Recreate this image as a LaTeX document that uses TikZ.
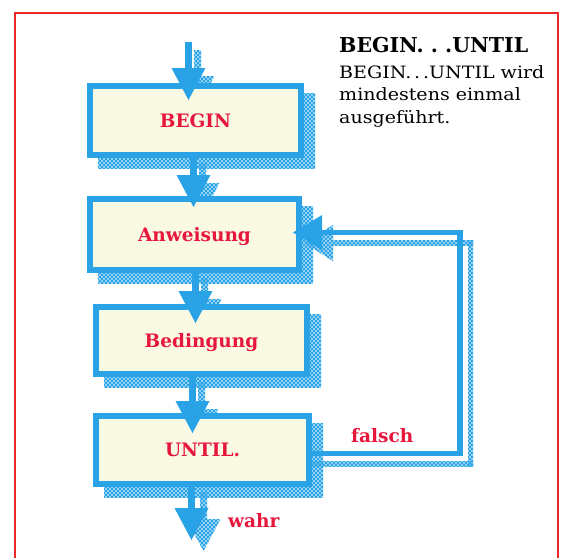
\documentclass[tikz,border=0pt]{standalone}
\usepackage{fontspec}
\setmainfont{DejaVu Serif}
\newfontfamily\bodyfont[FakeStretch=1.12]{DejaVu Serif}
\usetikzlibrary{arrows.meta,patterns,calc,backgrounds}
\definecolor{sblue}{RGB}{41,163,230}
\definecolor{cream}{RGB}{250,249,228}
\definecolor{lred}{RGB}{230,22,60}
\definecolor{bred}{RGB}{235,40,40}
\pgfdeclarepatternformonly{xmesh}{\pgfqpoint{-1pt}{-1pt}}{\pgfqpoint{5pt}{5pt}}{\pgfqpoint{4pt}{4pt}}{%
  \pgfsetlinewidth{1.4pt}%
  \pgfpathmoveto{\pgfqpoint{0pt}{0pt}}\pgfpathlineto{\pgfqpoint{4pt}{4pt}}%
  \pgfpathmoveto{\pgfqpoint{0pt}{4pt}}\pgfpathlineto{\pgfqpoint{4pt}{0pt}}%
  \pgfusepath{stroke}}
\begin{document}
\begin{tikzpicture}[x=1pt,y=-1pt,
  box/.style={draw=sblue, line width=6pt, fill=cream, outer sep=0pt, inner sep=0pt,
    text=lred, font=\fontsize{18.5}{20}\selectfont\bfseries, text height=13pt, text depth=0pt},
  shadowfill/.style={pattern=xmesh, pattern color=sblue},
  flow/.style={draw=sblue, line width=7pt, -{Triangle[width=34pt,length=32pt,line width=0pt]}},
  fbline/.style={draw=sblue, line width=5.5pt, line join=miter, -{Triangle[width=35pt,length=29pt,line width=0pt]}},
  lbl/.style={text=lred, font=\fontsize{18.5}{20}\selectfont\bfseries, inner sep=0pt, anchor=base west},
  txt/.style={font=\bodyfont\fontsize{17}{20}\selectfont, inner sep=0pt, anchor=base west}]
\useasboundingbox (0,0) rectangle (565,557);
\draw[bred, line width=1.5pt] (15,13) rectangle (558,580);

% boxes
\node[box, minimum width=211pt, minimum height=69pt] (b1) at (195.5,120.5) {BEGIN};
\node[box, minimum width=209pt, minimum height=71pt] (b2) at (194.5,234.5) {Anweisung};
\node[box, minimum width=211pt, minimum height=67pt] (b3) at (201.5,340.5) {Bedingung};
\node[box, minimum width=213pt, minimum height=68pt] (b4) at (202.5,450) {UNTIL.};

% shadows
\begin{scope}[on background layer]
  \foreach \n in {b1,b2,b3,b4}
    \fill[shadowfill] ([xshift=8pt,yshift=-7pt]\n.north west) rectangle ([xshift=14pt,yshift=-13pt]\n.south east);
  % arrow shadows
  \fill[shadowfill] (194,50) rectangle (201,76);
  \fill[shadowfill] (180.5,76) -- (214.5,76) -- (197.5,108) -- cycle;
  \fill[shadowfill] (199,163) rectangle (206,183);
  \fill[shadowfill] (185.5,183) -- (219.5,183) -- (202.5,215) -- cycle;
  \fill[shadowfill] (201,278) rectangle (208,299);
  \fill[shadowfill] (187.5,299) -- (221.5,299) -- (204.5,331) -- cycle;
  \fill[shadowfill] (198,382) rectangle (205,409);
  \fill[shadowfill] (184.5,409) -- (218.5,409) -- (201.5,441) -- cycle;
  \fill[shadowfill] (200,492) rectangle (207,519);
  \fill[shadowfill] (186.5,519) -- (220.5,519) -- (203.5,551) -- cycle;
  % feedback shadow
  \fill[shadowfill] (333,240) rectangle (473,245);
  \fill[shadowfill] (468,240) rectangle (473,466);
  \fill[shadowfill] (312,461) rectangle (473,466);
  \fill[shadowfill] (304,243) -- (333,225) -- (333,261) -- cycle;
\end{scope}

% connectors
\coordinate (in) at (188.5,42);
\draw[flow] (in) -- ($(in |- b1.north)+(0,14)$);
\draw[flow] ($(b1.south)+(-2,0)$) -- ($(b2.north)+(-1,8)$);
\draw[flow] ($(b2.south)+(1,0)$) -- ($(b3.north)+(-6,16)$);
\draw[flow] ($(b3.south)+(-9,0)$) -- ($(b4.north)+(-10,17)$);
\coordinate (out) at (191.5,540);
\draw[flow] ($(b4.south)+(-11,0)$) -- (out);

\coordinate (fb) at (460,0);
\coordinate (u) at ($(b4.east)+(0,3.5)$);
\coordinate (t) at ($(b2.east)+(-6,-2)$);
\draw[fbline] (u) -- (u -| fb) -- (t -| fb) -- (t);

% labels
\node[lbl] (falsch) at (351,442) {falsch};
\node[lbl] (wahr) at (228,527) {wahr};

% description
\node[txt, font=\fontsize{20.5}{22}\selectfont\bfseries] (title) at (339,52) {BEGIN.\ .\ .UNTIL};
\node[txt] (l1) at (339,78) {BEGIN.\,.\,.UNTIL wird};
\node[txt] (l2) at (339,100.5) {mindestens einmal};
\node[txt] (l3) at (339,123) {ausgeführt.};
\end{tikzpicture}
\end{document}
